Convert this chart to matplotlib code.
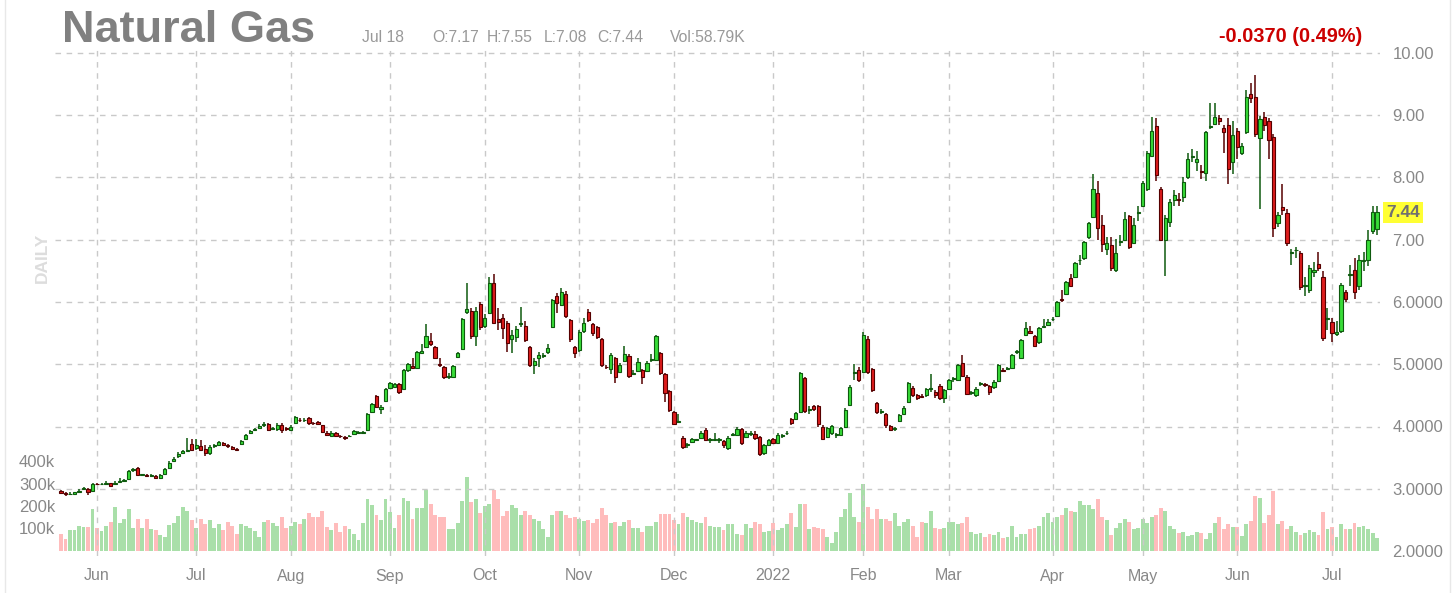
import numpy as np
import pandas as pd
import matplotlib
matplotlib.use('Agg')
import matplotlib.pyplot as plt
from matplotlib.lines import Line2D

plt.rcParams['font.family'] = ['Liberation Sans', 'DejaVu Sans']

# trading days shown on the chart
holidays = ['2021-05-31', '2021-07-05', '2021-09-06', '2021-11-25', '2021-12-24',
            '2022-01-17', '2022-02-21', '2022-04-15', '2022-05-30', '2022-06-20',
            '2022-07-04']
dates = pd.bdate_range('2021-05-19', '2022-07-18', freq='C', holidays=holidays)

opens = [
    2.96, 2.93, 2.91, 2.92, 2.95, 2.99, 3.00, 2.97,
    3.08, 3.07, 3.08, 3.09, 3.07, 3.11, 3.13, 3.15, 3.30, 3.33, 3.22, 3.22, 3.21, 3.21, 3.18, 3.24, 3.33, 3.44, 3.52, 3.58, 3.61, 3.72,
    3.66, 3.68, 3.64, 3.58, 3.68, 3.70, 3.73, 3.70, 3.67, 3.64, 3.72, 3.80, 3.90, 3.94, 3.98, 4.02, 4.04, 3.96, 3.96, 4.03, 3.98,
    3.94, 4.06, 4.11, 4.10, 4.14, 4.06, 4.07, 4.02, 3.90, 3.85, 3.89, 3.85, 3.83, 3.84, 3.88, 3.90, 3.90, 3.94, 4.23, 4.49, 4.28, 4.41,
    4.62, 4.64, 4.68, 4.60, 4.90, 4.97, 4.94, 5.18, 5.28, 5.37, 5.28, 5.00, 4.95, 4.80, 4.80, 5.12, 5.25, 5.84, 5.85, 5.45, 5.97,
    5.62, 5.82, 6.30, 5.72, 5.74, 5.66, 5.40, 5.44, 5.65, 5.61, 5.28, 4.99, 5.10, 5.14, 5.20, 5.60, 6.10, 5.95, 6.13, 5.71, 5.28,
    5.23, 5.53, 5.84, 5.64, 5.60, 5.40, 4.96, 4.92, 5.10, 4.88, 5.05, 5.13, 4.85, 4.89, 4.90, 4.89, 5.07, 5.07, 5.18, 4.84, 4.57,
    4.23, 4.07, 3.82, 3.70, 3.75, 3.78, 3.82, 3.94, 3.78, 3.78, 3.78, 3.77, 3.66, 3.86, 3.86, 3.96, 3.83, 3.88, 3.88, 3.83, 3.57, 3.70,
    3.80, 3.74, 3.85, 3.89, 4.12, 4.12, 4.23, 4.78, 4.27, 4.33, 4.33, 4.00, 3.83, 3.90, 3.86, 3.86, 4.00, 4.35, 4.86, 4.91,
    4.88, 5.40, 4.92, 4.38, 4.24, 4.20, 4.00, 3.96, 4.09, 4.20, 4.40, 4.62, 4.50, 4.49, 4.50, 4.60, 4.55, 4.65, 4.45,
    4.60, 4.76, 4.75, 5.02, 4.80, 4.54, 4.50, 4.68, 4.68, 4.65, 4.63, 4.73, 4.91, 4.93, 4.94, 5.20, 5.10, 5.47, 5.53, 5.45, 5.35, 5.60, 5.63,
    5.72, 5.78, 6.05, 6.13, 6.38, 6.40, 6.67, 6.70, 7.04, 7.37, 7.75, 7.24, 6.85, 6.92, 6.51, 6.96, 7.00, 7.38, 6.95, 7.43,
    7.54, 7.81, 8.35, 8.83, 7.81, 7.00, 7.28, 7.64, 7.65, 7.69, 8.00, 8.33, 8.25, 8.10, 8.07, 8.81, 8.86, 8.95, 8.80, 8.84, 8.25,
    8.75, 8.39, 8.73, 9.34, 9.30, 8.63, 8.97, 8.90, 8.65, 7.27, 7.52, 7.43, 6.79, 6.83, 6.79, 6.26, 6.19, 6.48, 6.61, 6.40, 5.73,
    5.68, 5.48, 5.53, 6.16, 6.43, 6.51, 6.26, 6.66, 6.67, 7.14, 7.17,
]
closes = [
    2.93, 2.91, 2.92, 2.94, 2.97, 3.01, 2.94, 3.07,
    3.07, 3.08, 3.08, 3.05, 3.10, 3.13, 3.13, 3.28, 3.32, 3.22, 3.22, 3.21, 3.21, 3.17, 3.22, 3.31, 3.42, 3.48, 3.56, 3.60, 3.62, 3.63,
    3.70, 3.63, 3.57, 3.67, 3.70, 3.75, 3.70, 3.68, 3.64, 3.63, 3.76, 3.86, 3.93, 3.96, 4.01, 4.04, 3.95, 3.97, 4.03, 3.94, 3.96,
    4.00, 4.15, 4.10, 4.11, 4.05, 4.05, 4.04, 3.91, 3.86, 3.90, 3.85, 3.84, 3.81, 3.85, 3.92, 3.90, 3.91, 4.20, 4.36, 4.31, 4.32, 4.60,
    4.70, 4.68, 4.55, 4.90, 5.00, 4.94, 5.20, 5.22, 5.45, 5.33, 5.10, 4.99, 4.80, 4.80, 4.97, 5.18, 5.73, 5.88, 5.45, 5.85, 5.60,
    5.75, 6.30, 5.66, 5.68, 5.58, 5.34, 5.47, 5.57, 5.66, 5.39, 4.99, 5.06, 5.15, 5.14, 5.26, 6.03, 5.98, 6.16, 5.78, 5.40, 5.18,
    5.52, 5.66, 5.71, 5.50, 5.44, 4.99, 4.95, 5.15, 4.80, 4.99, 5.16, 4.81, 4.85, 5.04, 4.80, 5.02, 5.07, 5.45, 4.86, 4.54, 4.26,
    4.04, 4.09, 3.67, 3.70, 3.80, 3.78, 3.90, 3.78, 3.78, 3.78, 3.78, 3.70, 3.82, 3.86, 3.96, 3.73, 3.90, 3.88, 3.82, 3.56, 3.70, 3.78,
    3.74, 3.87, 3.85, 3.89, 4.05, 4.22, 4.86, 4.25, 4.27, 4.28, 4.04, 3.80, 3.98, 4.00, 3.86, 3.98, 4.27, 4.63, 4.86, 4.75,
    5.47, 4.88, 4.59, 4.23, 4.24, 4.02, 3.95, 3.96, 4.18, 4.30, 4.70, 4.50, 4.45, 4.47, 4.60, 4.60, 4.50, 4.45, 4.58,
    4.74, 4.76, 4.99, 4.81, 4.52, 4.54, 4.60, 4.68, 4.66, 4.55, 4.72, 4.99, 4.89, 4.93, 5.15, 5.20, 5.39, 5.58, 5.51, 5.30, 5.58, 5.61, 5.68,
    5.72, 6.00, 6.03, 6.32, 6.26, 6.63, 6.67, 6.96, 7.27, 7.82, 7.19, 6.93, 6.95, 6.55, 6.79, 6.96, 7.33, 6.88, 7.24, 7.43,
    7.91, 8.39, 8.75, 8.04, 7.00, 7.35, 7.60, 7.72, 7.64, 7.93, 8.30, 8.33, 8.30, 8.09, 8.73, 8.81, 8.97, 8.91, 8.73, 8.14, 8.68,
    8.49, 8.50, 9.30, 9.28, 8.70, 8.94, 8.85, 8.60, 7.19, 7.40, 7.47, 6.95, 6.79, 6.83, 6.24, 6.26, 6.55, 6.52, 6.55, 5.42, 5.73,
    5.50, 5.52, 6.27, 6.05, 6.43, 6.16, 6.67, 6.68, 7.00, 7.45, 7.44,
]
highs = [
    2.98, 2.95, 2.94, 2.95, 3.00, 3.03, 3.01, 3.09,
    3.10, 3.09, 3.12, 3.10, 3.12, 3.17, 3.15, 3.30, 3.34, 3.35, 3.24, 3.23, 3.23, 3.22, 3.24, 3.33, 3.44, 3.51, 3.59, 3.62, 3.81, 3.80,
    3.80, 3.79, 3.70, 3.70, 3.72, 3.77, 3.75, 3.72, 3.68, 3.66, 3.78, 3.88, 3.95, 3.98, 4.04, 4.08, 4.06, 4.00, 4.05, 4.05, 4.00,
    4.02, 4.17, 4.13, 4.13, 4.16, 4.08, 4.09, 4.03, 3.92, 3.92, 3.91, 3.86, 3.84, 3.87, 3.94, 3.92, 3.92, 4.22, 4.38, 4.51, 4.34, 4.62,
    4.72, 4.70, 4.70, 4.92, 5.02, 5.10, 5.22, 5.32, 5.65, 5.50, 5.30, 5.10, 4.97, 4.86, 4.99, 5.20, 5.75, 6.30, 5.90, 5.92, 6.00,
    5.80, 6.40, 6.45, 5.90, 5.80, 5.70, 5.55, 5.62, 5.92, 5.70, 5.30, 5.10, 5.20, 5.18, 5.32, 6.05, 6.15, 6.22, 6.18, 5.73, 5.30,
    5.55, 5.75, 5.88, 5.66, 5.62, 5.42, 4.98, 5.18, 5.12, 5.02, 5.30, 5.16, 4.90, 5.10, 4.92, 5.05, 5.16, 5.47, 5.20, 4.86, 4.59,
    4.25, 4.20, 3.85, 3.74, 3.82, 3.80, 3.92, 3.98, 3.82, 3.90, 3.82, 3.79, 3.84, 3.90, 3.99, 3.98, 3.92, 3.92, 3.92, 3.85, 3.72, 3.80,
    3.82, 3.89, 3.88, 3.92, 4.14, 4.24, 4.88, 4.80, 4.33, 4.35, 4.35, 4.02, 4.00, 4.02, 3.90, 4.00, 4.29, 4.66, 5.00, 4.95,
    5.52, 5.45, 4.94, 4.40, 4.28, 4.22, 4.02, 3.99, 4.20, 4.33, 4.72, 4.65, 4.52, 4.52, 4.62, 4.85, 4.58, 4.68, 4.60,
    4.76, 4.80, 5.01, 5.15, 4.82, 4.57, 4.63, 4.72, 4.70, 4.67, 4.75, 5.01, 4.94, 4.96, 5.17, 5.23, 5.41, 5.68, 5.62, 5.47, 5.60, 5.72, 5.72,
    5.76, 6.02, 6.20, 6.34, 6.45, 6.65, 6.75, 6.98, 7.29, 8.06, 7.95, 7.40, 7.05, 7.05, 7.02, 7.08, 7.45, 7.40, 7.35, 7.55,
    7.95, 8.42, 8.97, 8.96, 7.85, 7.40, 7.65, 7.80, 7.75, 8.00, 8.40, 8.45, 8.42, 8.20, 8.75, 9.20, 9.20, 9.00, 8.85, 8.95, 8.90,
    8.80, 8.55, 9.40, 9.52, 9.65, 8.98, 9.05, 8.95, 8.70, 7.45, 7.90, 7.50, 6.85, 6.88, 6.82, 6.40, 6.60, 6.65, 6.80, 6.50, 5.90,
    5.75, 5.70, 6.30, 6.20, 6.60, 6.70, 6.75, 6.80, 7.15, 7.55, 7.55,
]
lows = [
    2.91, 2.89, 2.90, 2.91, 2.94, 2.98, 2.90, 2.96,
    3.06, 3.06, 3.06, 3.03, 3.06, 3.10, 3.11, 3.14, 3.27, 3.20, 3.20, 3.19, 3.19, 3.15, 3.16, 3.23, 3.32, 3.43, 3.50, 3.56, 3.60, 3.60,
    3.62, 3.60, 3.53, 3.55, 3.66, 3.68, 3.68, 3.66, 3.62, 3.62, 3.70, 3.78, 3.88, 3.92, 3.96, 4.00, 3.93, 3.94, 3.93, 3.90, 3.92,
    3.92, 4.05, 4.08, 4.08, 4.03, 4.03, 4.02, 3.89, 3.84, 3.84, 3.83, 3.82, 3.78, 3.83, 3.87, 3.88, 3.89, 3.93, 4.21, 4.29, 4.20, 4.39,
    4.60, 4.62, 4.53, 4.58, 4.88, 4.92, 4.92, 5.16, 5.26, 5.30, 5.08, 4.96, 4.76, 4.77, 4.78, 5.10, 5.23, 5.80, 5.40, 5.30, 5.55,
    5.58, 5.80, 5.64, 5.55, 5.40, 5.20, 5.18, 5.35, 5.60, 5.35, 4.95, 4.85, 4.95, 5.10, 5.17, 5.58, 5.82, 5.93, 5.75, 5.35, 5.10,
    5.20, 5.50, 5.68, 5.45, 5.40, 4.95, 4.92, 4.85, 4.70, 4.86, 5.03, 4.78, 4.82, 4.87, 4.68, 4.87, 5.03, 5.05, 4.82, 4.40, 4.24,
    4.02, 4.05, 3.64, 3.66, 3.73, 3.76, 3.80, 3.76, 3.74, 3.76, 3.74, 3.66, 3.62, 3.84, 3.84, 3.70, 3.81, 3.85, 3.79, 3.53, 3.55, 3.68,
    3.72, 3.72, 3.82, 3.86, 4.03, 4.10, 4.21, 4.22, 4.20, 4.25, 4.00, 3.78, 3.81, 3.87, 3.82, 3.84, 3.98, 4.33, 4.75, 4.72,
    4.86, 4.85, 4.55, 4.20, 4.20, 3.98, 3.92, 3.92, 4.07, 4.18, 4.38, 4.47, 4.42, 4.45, 4.48, 4.56, 4.46, 4.42, 4.38,
    4.58, 4.72, 4.73, 4.79, 4.50, 4.51, 4.48, 4.65, 4.64, 4.50, 4.61, 4.71, 4.87, 4.90, 4.92, 5.16, 5.08, 5.45, 5.48, 5.28, 5.33, 5.58, 5.61,
    5.69, 5.76, 6.00, 6.11, 6.24, 6.38, 6.60, 6.68, 7.02, 7.35, 7.00, 6.80, 6.75, 6.50, 6.48, 6.90, 6.98, 6.85, 6.93, 7.30,
    7.52, 7.79, 8.33, 7.95, 6.98, 6.42, 7.20, 7.55, 7.55, 7.60, 7.98, 8.25, 8.10, 7.98, 7.95, 8.78, 8.84, 8.85, 8.40, 7.90, 8.05,
    8.30, 8.36, 8.70, 9.20, 8.65, 7.50, 8.75, 8.30, 7.05, 7.20, 7.40, 6.90, 6.60, 6.70, 6.20, 6.10, 6.15, 6.40, 6.50, 5.38, 5.55,
    5.35, 5.45, 5.50, 6.00, 6.25, 6.05, 6.20, 6.50, 6.58, 7.10, 7.08,
]
# volume in thousands of contracts
volume_k = [
    77, 52, 92, 92, 111, 108, 106, 185, 103, 89, 111, 130, 196, 123, 143, 185, 103, 143, 103, 143,
    99, 93, 69, 64, 115, 126, 155, 196, 177, 137, 103, 143, 118, 137, 103, 118, 93, 130, 111, 77,
    118, 111, 103, 89, 64, 130, 137, 126, 111, 151, 103, 111, 130, 118, 143, 170, 151, 151, 177, 108,
    93, 126, 84, 111, 99, 77, 49, 126, 232, 205, 158, 137, 232, 173, 103, 158, 236, 224, 143, 192,
    192, 270, 211, 158, 151, 151, 99, 99, 126, 224, 330, 217, 232, 170,
    199, 211, 270, 232, 155, 180, 205, 192, 158, 180, 158, 143, 133, 96, 64, 158, 177, 177, 158, 148,
    151, 143, 133, 137, 126, 143, 189, 162, 126, 130, 111, 130, 137, 103, 103, 84, 111, 111, 130, 165,
    165, 165, 137, 118, 170, 151, 140, 130, 126, 151, 111, 106, 106, 93, 118, 118, 77, 69, 118, 103,
    130, 118, 84, 89, 126, 93, 103, 118, 170, 108, 211, 211, 96, 108, 103, 99, 64, 37, 84, 151,
    185, 258, 151, 130, 298, 196, 143, 185, 143, 143, 133, 170, 111, 130, 143, 111, 64, 130, 123, 177,
    103, 99, 103,
    130, 130, 118, 126, 151, 84, 74, 78, 64, 77, 69, 84, 59, 64, 111, 64, 77, 77, 99, 103,
    111, 151, 170, 129, 151, 158, 192, 177, 173, 224, 204, 204, 185, 232, 151, 137, 69, 103, 123, 143,
    130, 96, 103, 143, 126, 151, 158, 192, 177, 111, 99, 78, 84, 67, 69, 84, 78, 55, 78, 126,
    152, 99, 118, 108, 108, 67, 118, 133, 244, 236, 126, 158, 266, 118, 133, 99, 111, 84, 69, 78,
    93, 84, 69, 173, 99, 108, 64, 118, 96, 96, 126, 108, 111, 99, 78, 59,
]

price_ticks = [2, 3, 4, 5, 6, 7, 8, 9, 10]
price_labels = ['2.0000', '3.0000', '4.0000', '5.0000', '6.0000', '7.00', '8.00', '9.00', '10.00']
vol_ticks = [100, 200, 300, 400]

assert len(opens) == len(closes) == len(highs) == len(lows) == len(volume_k) == len(dates)

o = np.array(opens)
c = np.array(closes)
h = np.maximum(np.array(highs), np.maximum(o, c))
l = np.minimum(np.array(lows), np.minimum(o, c))
v = np.array(volume_k)
x = np.arange(len(c))
up = c >= o

W, H = 1454, 593
fig = plt.figure(figsize=(W / 100, H / 100), dpi=100)
fig.patch.set_facecolor('white')

# axes box in pixels: x 55..1380, y 48..556
ax = fig.add_axes([55 / W, (H - 556) / H, 1325 / W, 508 / H])
vax = ax.twinx()
ax.set_zorder(vax.get_zorder() + 1)
ax.patch.set_visible(False)

ax.set_xlim(-1.33, 292.65)
ax.set_ylim(2 - 5 / 62.25, 2 + 503 / 62.25)
vax.set_ylim(-5 / 22.5 * 100, 503 / 22.5 * 100)

grid_kw = dict(color='#c9c9c9', lw=1, dashes=(4, 4), zorder=0)

# month ticks at first trading day of each month
month_idx = [i for i in range(1, len(dates)) if dates[i].month != dates[i - 1].month]
month_lab = [str(dates[i].year) if dates[i].month == 1 else dates[i].strftime('%b') for i in month_idx]
for i in month_idx:
    ax.axvline(i, **grid_kw)
for p in price_ticks[1:]:
    ax.axhline(p, **grid_kw)

# volume
vol_colors = np.where(up, '#a9dfa9', '#ffbcbc')
vax.bar(x, v, width=0.86, color=vol_colors, linewidth=0)

# candles
edge = np.where(up, '#0e5a0e', '#560000')
fill = np.where(up, '#38dc38', '#dd1c1c')
ax.vlines(x, l, h, colors=edge, lw=1.1, zorder=3)
body = np.maximum(np.abs(c - o), 0.012)
ax.bar(x, body, bottom=np.minimum(o, c), width=0.72, color=fill,
       edgecolor=edge, linewidth=0.8, zorder=4)

for a in (ax, vax):
    for s in a.spines.values():
        s.set_visible(False)

ax.set_xticks(month_idx)
ax.set_xticklabels(month_lab)
ax.set_yticks(price_ticks)
ax.set_yticklabels(price_labels)
ax.yaxis.tick_right()
ax.tick_params(axis='x', length=0, pad=9, labelsize=11.5, labelcolor='#888888')
ax.tick_params(axis='y', length=0, pad=9, labelsize=12, labelcolor='#888888')

vax.yaxis.tick_left()
vax.set_yticks(vol_ticks)
vax.set_yticklabels([f'{t}k' for t in vol_ticks])
vax.tick_params(axis='y', length=0, pad=0, labelsize=12, labelcolor='#888888')

# last price tag
ax.annotate(f'{c[-1]:.2f}', xy=(1.0045, c[-1]), xycoords=('axes fraction', 'data'),
            ha='left', va='center', fontsize=12.5, fontweight='bold', color='#707070',
            bbox=dict(boxstyle='square,pad=0.18', fc='#ffff33', ec='none'))

# header
def fx(px):
    return px / W

def fy(py):
    return 1 - py / H

fig.text(fx(62), fy(42), 'Natural Gas', fontsize=32.5, fontweight='bold', color='#808080')
hdr = [(362, 'Jul 18'), (432, f'O:{o[-1]:.2f}'), (487, f'H:{h[-1]:.2f}'),
       (544, f'L:{l[-1]:.2f}'), (597, f'C:{c[-1]:.2f}'), (670, 'Vol:58.79K')]
for px, s in hdr:
    fig.text(fx(px), fy(42), s, fontsize=11.3, color='#999999')
fig.text(fx(1362), fy(42), '-0.0370 (0.49%)', fontsize=14.3, fontweight='bold',
         color='#cc0000', ha='right')
fig.text(fx(42), fy(258), 'DAILY', rotation=90, fontsize=12.5, fontweight='bold',
         color='#dddddd', ha='center', va='center')

# faint frame at the sides
for px in (5, 1450):
    fig.add_artist(Line2D([fx(px), fx(px)], [0, 1], color='#e8e8e8', lw=1))

fig.savefig('out.png', dpi=100)
